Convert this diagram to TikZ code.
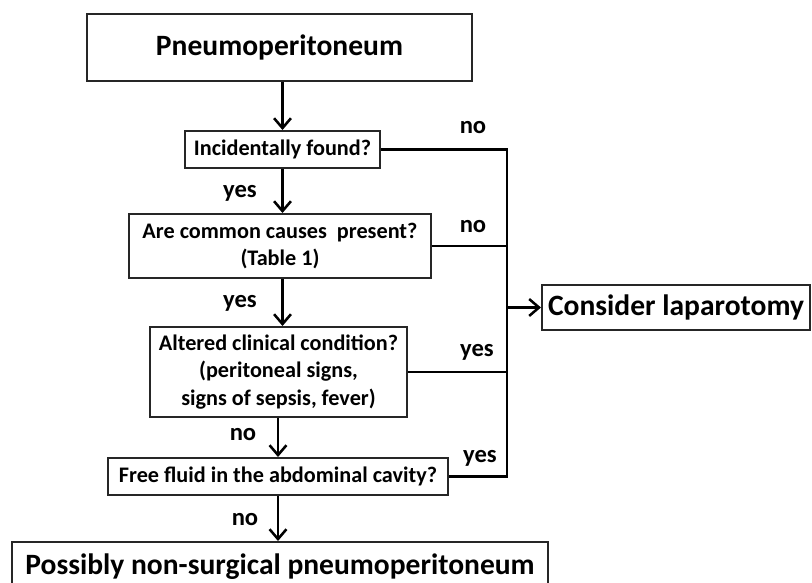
\documentclass[tikz,border=0pt]{standalone}
\usepackage{fontspec}
\setmainfont{Carlito}
\usetikzlibrary{arrows.meta,positioning}
\begin{document}
\begin{tikzpicture}[
        x=0.025cm, y=-0.025cm,
        box/.style={draw=black!85, line width=1.4pt, align=center, inner sep=2pt,
            font=\bfseries\fontsize{15.8}{19.5}\selectfont},
        bigbox/.style={box, font=\bfseries\fontsize{21}{25}\selectfont},
        lab/.style={font=\bfseries\fontsize{17.5}{19}\selectfont},
        line/.style={line width=2.1pt},
        arrow/.style={line, -{Straight Barb[length=7pt,width=12pt,line width=1.8pt]}}
    ]
        \useasboundingbox (0,0) rectangle (812,583);

        % Decision chain
        \node[bigbox, minimum width=9.625cm, minimum height=1.675cm] (pneumo) at (279.5,47.5) {Pneumoperitoneum};
        \node[box, minimum width=4.875cm, minimum height=0.925cm] (incident) at (282.5,149.5) {Incidentally found?};
        \node[box, minimum width=7.55cm, minimum height=1.6cm] (causes) at (280,246) {Are common causes~ present?\\(Table 1)};
        \node[box, minimum width=6.425cm, minimum height=2.25cm] (altered) at (278.5,372) {Altered clinical condition?\\(peritoneal signs,\\signs of sepsis, fever)};
        \node[box, minimum width=8.5cm, minimum height=0.925cm] (fluid) at (278,476.5) {Free fluid in the abdominal cavity?};
        \node[bigbox, minimum width=13.4cm, minimum height=1.25cm] (nonsurg) at (280,567) {Possibly non-surgical pneumoperitoneum};
        \node[bigbox, minimum width=6.7cm, minimum height=1.125cm] (lapar) at (676,307.5) {Consider laparotomy};

        % Collector line on the right
        \coordinate (jx) at (507,0);
        \coordinate (jtop) at (incident.east -| jx);
        \coordinate (jbot) at (fluid.east -| jx);

        \draw[arrow] (pneumo.south -| incident.north) -- (incident.north);
        \draw[arrow] (incident.south) -- (incident.south |- causes.north);
        \draw[arrow] (causes.south -| incident.south) -- (altered.north -| incident.south);
        \draw[arrow] (altered.south -| fluid.north) -- (fluid.north);
        \draw[arrow] (fluid.south) -- (fluid.south |- nonsurg.north);

        \draw[line, line join=miter] (incident.east) -- (jtop) -- (jbot) -- (fluid.east);
        \draw[line] (causes.east) -- (causes.east -| jx);
        \draw[line] (altered.east) -- (altered.east -| jx);
        \draw[arrow] (lapar.west -| jx) -- (lapar.west);

        % Branch labels
        \node[lab] (l-inc) at (473,128) {no};
        \node[lab] (l-cau) at (473,227) {no};
        \node[lab] (l-alt) at (477,352) {yes};
        \node[lab] (l-flu) at (480,458) {yes};
        \node[lab] (y-inc) at (240,193) {yes};
        \node[lab] (y-cau) at (240,303) {yes};
        \node[lab] (n-alt) at (243,435) {no};
        \node[lab] (n-flu) at (245,520) {no};
    \end{tikzpicture}
\end{document}
